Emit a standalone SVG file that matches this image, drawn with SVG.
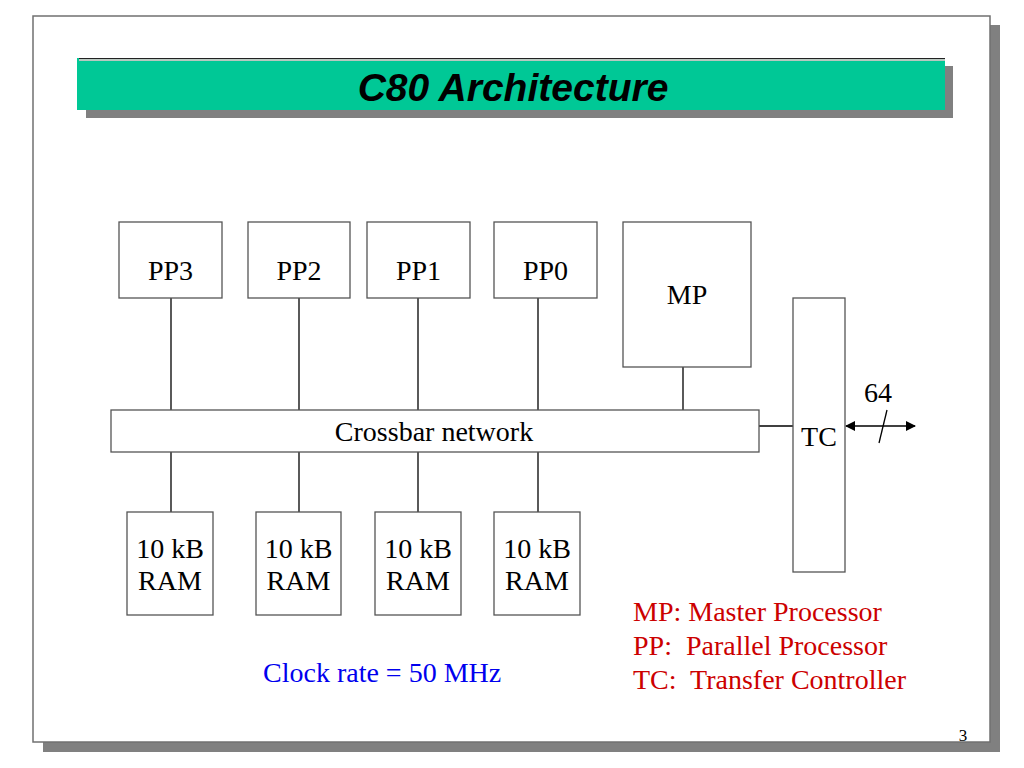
<svg xmlns="http://www.w3.org/2000/svg" width="1024" height="768" viewBox="0 0 1024 768">
<style>
.box{fill:#fff;stroke:#555;stroke-width:1.3}
.lbl{font-family:"Liberation Serif","Times New Roman",serif;font-size:28px;fill:#000;text-anchor:middle}
.conn{stroke:#000;stroke-width:1.3;fill:none}
.leg{font-family:"Liberation Serif","Times New Roman",serif;font-size:28px;fill:#CC0000}
</style>
<defs>
<marker id="ah" viewBox="0 0 10 10" refX="9" refY="5" markerWidth="10" markerHeight="10" markerUnits="userSpaceOnUse" orient="auto-start-reverse">
<path d="M0,0 L10,5 L0,10 z" fill="#000"/>
</marker>
</defs>
<rect width="1024" height="768" fill="#fff"/>
<!-- slide frame -->
<rect x="43" y="25" width="957" height="727" fill="#808080"/>
<rect x="33" y="16" width="957" height="726" fill="#fff" stroke="#707070" stroke-width="1.5"/>
<!-- title bar -->
<rect x="86" y="66" width="867" height="52" fill="#808080"/>
<rect x="77" y="58" width="868" height="52" fill="#00C896"/>
<line x1="79" y1="58.5" x2="945" y2="58.5" stroke="#222" stroke-width="1"/>
<line x1="79" y1="60" x2="945" y2="60" stroke="#b8c8c0" stroke-width="2"/>
<text x="513" y="101" font-family="Liberation Sans,Arial,sans-serif" font-size="39" font-weight="bold" font-style="italic" text-anchor="middle" fill="#000">C80 Architecture</text>
<!-- connectors -->
<g id="connectors">
<line class="conn" x1="171" y1="298" x2="171" y2="410"/>
<line class="conn" x1="299" y1="298" x2="299" y2="410"/>
<line class="conn" x1="418" y1="298" x2="418" y2="410"/>
<line class="conn" x1="538" y1="298" x2="538" y2="410"/>
<line class="conn" x1="683" y1="367" x2="683" y2="410"/>
<line class="conn" x1="171" y1="452" x2="171" y2="512"/>
<line class="conn" x1="299" y1="452" x2="299" y2="512"/>
<line class="conn" x1="418" y1="452" x2="418" y2="512"/>
<line class="conn" x1="538" y1="452" x2="538" y2="512"/>
<line class="conn" x1="759" y1="426" x2="793" y2="426"/>
<line class="conn" x1="846" y1="426" x2="915" y2="426" marker-start="url(#ah)" marker-end="url(#ah)"/>
<line class="conn" x1="887" y1="410" x2="879" y2="443"/>
<text class="lbl" x="878" y="402">64</text>
</g>
<g id="pp3"><rect class="box" x="119" y="222" width="103" height="76"/><text class="lbl" x="170.5" y="280">PP3</text></g>
<g id="pp2"><rect class="box" x="248" y="222" width="102" height="76"/><text class="lbl" x="299" y="280">PP2</text></g>
<g id="pp1"><rect class="box" x="367" y="222" width="103" height="76"/><text class="lbl" x="418.5" y="280">PP1</text></g>
<g id="pp0"><rect class="box" x="494" y="222" width="103" height="76"/><text class="lbl" x="545.5" y="280">PP0</text></g>
<g id="mp"><rect class="box" x="623" y="222" width="128" height="145"/><text class="lbl" x="687" y="304">MP</text></g>
<g id="crossbar"><rect class="box" x="111" y="410" width="648" height="42"/><text class="lbl" x="434" y="441">Crossbar network</text></g>
<g id="tc"><rect class="box" x="793" y="298" width="52" height="274"/><text class="lbl" x="819" y="446">TC</text></g>
<g id="ram3"><rect class="box" x="127" y="512" width="86" height="103"/><text class="lbl" x="170" y="558">10 kB</text><text class="lbl" x="170" y="590">RAM</text></g>
<g id="ram2"><rect class="box" x="256" y="512" width="85" height="103"/><text class="lbl" x="298.5" y="558">10 kB</text><text class="lbl" x="298.5" y="590">RAM</text></g>
<g id="ram1"><rect class="box" x="375" y="512" width="86" height="103"/><text class="lbl" x="418" y="558">10 kB</text><text class="lbl" x="418" y="590">RAM</text></g>
<g id="ram0"><rect class="box" x="494" y="512" width="86" height="103"/><text class="lbl" x="537" y="558">10 kB</text><text class="lbl" x="537" y="590">RAM</text></g>
<text x="263" y="682" font-family="Liberation Serif,Times New Roman,serif" font-size="28" fill="#0000EE">Clock rate = 50 MHz</text>
<text class="leg" x="633" y="621" xml:space="preserve">MP: Master Processor</text>
<text class="leg" x="633" y="655" xml:space="preserve">PP:  Parallel Processor</text>
<text class="leg" x="633" y="689" xml:space="preserve">TC:  Transfer Controller</text>
<text x="963" y="741" font-family="Liberation Serif,Times New Roman,serif" font-size="17" text-anchor="middle" fill="#000">3</text>
</svg>
